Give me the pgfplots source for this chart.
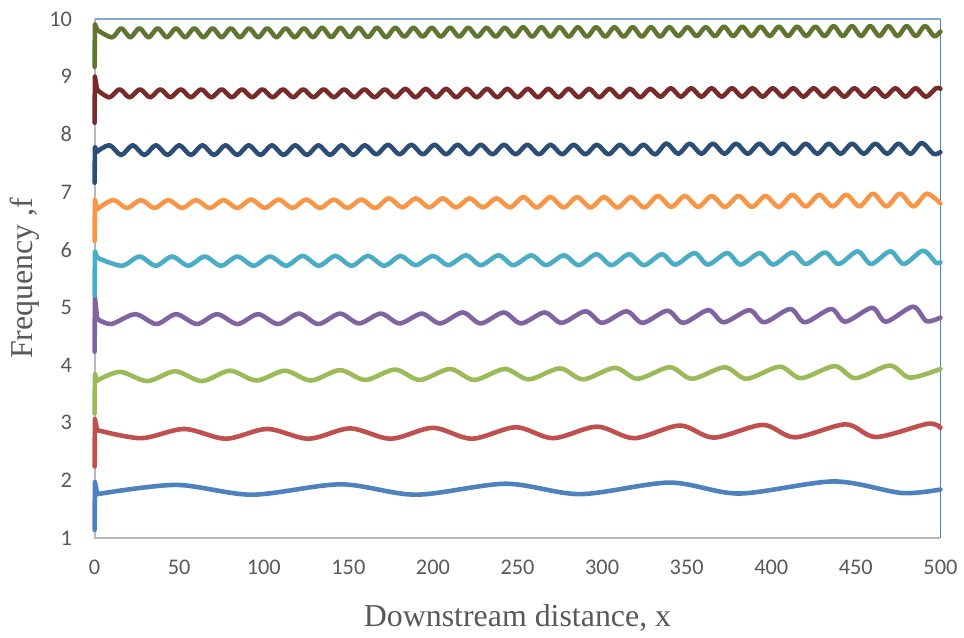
\documentclass[border=0pt]{standalone}
\usepackage{pgfplots}
\pgfplotsset{compat=1.18}
\usepackage{fontspec}
\setmainfont{Liberation Serif}
\newfontfamily\carlito{Carlito}
\definecolor{c1}{HTML}{4F81BD}
\definecolor{c2}{HTML}{C0504D}
\definecolor{c3}{HTML}{9BBB59}
\definecolor{c4}{HTML}{8064A2}
\definecolor{c5}{HTML}{4BACC6}
\definecolor{c6}{HTML}{F79646}
\definecolor{c7}{HTML}{2C4D75}
\definecolor{c8}{HTML}{772C2A}
\definecolor{c9}{HTML}{5F7530}
\definecolor{txtgray}{HTML}{595959}
\definecolor{axgray}{HTML}{B3B9C1}
\definecolor{frameblue}{HTML}{4F81BD}
\begin{document}
\begin{tikzpicture}
\begin{axis}[
  scale only axis,
  width=424.5pt, height=260.5pt,
  xmin=0, xmax=500, ymin=1, ymax=10,
  xtick={0,50,...,500}, ytick={1,2,...,10},
  major tick length=0pt,
  axis line style={draw=none},
  clip=false,
  /pgf/number format/assume math mode=true,
  tick label style={font=\carlito\fontsize{11.2}{13}\selectfont, text=txtgray},
  x tick label style={yshift=-7.5pt},
  y tick label style={xshift=-7.8pt},
  xlabel={Downstream distance, x},
  ylabel={Frequency ,f},
  every axis x label/.style={at={(axis description cs:0.5,-0.1535)}, anchor=center, font=\fontsize{16}{19}\selectfont, text=txtgray},
  every axis y label/.style={at={(axis description cs:-0.0825,0.5)}, anchor=center, rotate=90, font=\fontsize{16}{19}\selectfont, text=txtgray},
  every axis plot/.append style={line width=2.3pt, line join=round, line cap=round},
]
\path (rel axis cs:0,0) ++(-47.5pt,-48.5pt) coordinate (bbsw);
\path (rel axis cs:1,1) ++(10pt,9.5pt) coordinate (bbne);
\draw[color=axgray, line width=0.9pt] (rel axis cs:0,1) -- (rel axis cs:0,0) -- (rel axis cs:1,0);
\draw[color=frameblue!70, line width=0.7pt] (rel axis cs:0,1) -- (rel axis cs:1,1);
\draw[color=frameblue, line width=0.8pt] (rel axis cs:1,1) -- (rel axis cs:1,0);

% series 1 (blue)
\addplot[c1] coordinates {(0,1.14)(0.15,1.97)(1.5,1.76)};
\addplot[c1, smooth] coordinates {(1.5,1.76)(48,1.92)(93,1.75)(145.5,1.93)(190,1.75)(243,1.94)(287,1.76)(340,1.96)(381,1.77)(437,1.98)(477,1.78)(500,1.84)};

% series 2 (red)
\addplot[c2] coordinates {(0,2.24)(0.15,3.06)(1.5,2.87)};
\addplot[c2, smooth] coordinates {(1.5,2.87)(27.5,2.73)(53,2.89)(77.5,2.72)(102,2.89)(126.5,2.72)(151,2.90)(175,2.72)(200,2.91)(223,2.72)(249,2.92)(271,2.73)(297,2.93)(319,2.73)(346,2.95)(366,2.74)(395,2.96)(414,2.745)(444,2.97)(462,2.75)(492.5,2.98)(500,2.91)};

% series 3 (green)
\addplot[c3] coordinates {(0,3.16)(0.15,3.85)(1.5,3.73)};
\addplot[c3, smooth] coordinates {(1.5,3.73)(15,3.88)(31.2,3.72)(47.5,3.89)(63.4,3.72)(80,3.90)(95.6,3.73)(112.5,3.90)(127.8,3.73)(145,3.91)(160,3.74)(177.5,3.92)(192.2,3.74)(210,3.93)(224.4,3.74)(242.5,3.93)(256.6,3.75)(275,3.94)(288.8,3.75)(307.5,3.95)(321,3.76)(340,3.96)(353.2,3.76)(372.5,3.96)(385.4,3.76)(405,3.97)(417.6,3.77)(437.5,3.98)(449.8,3.77)(470,3.99)(482,3.78)(500,3.93)};

% series 4 (purple)
\addplot[c4] coordinates {(0,4.23)(0.15,5.17)(1.5,4.80)};
\addplot[c4, smooth] coordinates {(1.5,4.80)(9.8,4.71)(24,4.88)(36.5,4.71)(48.2,4.88)(60.5,4.71)(72.4,4.88)(84.4,4.71)(96.6,4.88)(108.4,4.71)(120.8,4.89)(132.3,4.71)(145,4.89)(156.3,4.72)(169.2,4.89)(180.3,4.72)(193.4,4.89)(204.2,4.72)(217.6,4.91)(228.2,4.72)(241.8,4.91)(252.1,4.72)(266,4.91)(276.1,4.73)(290.2,4.93)(300.1,4.73)(314.4,4.93)(324,4.73)(338.6,4.94)(348,4.73)(362.8,4.95)(371.9,4.74)(387,4.95)(395.9,4.74)(411.2,4.97)(419.9,4.74)(435.4,4.97)(443.8,4.75)(459.6,4.99)(467.8,4.75)(483.8,5.01)(491.7,4.76)(500,4.82)};

% series 5 (aqua)
\addplot[c5] coordinates {(0,5.20)(0.15,5.97)(1.5,5.86)};
\addplot[c5, smooth] coordinates {(1.5,5.86)(16,5.72)(26.5,5.88)(36.1,5.72)(45.8,5.88)(55.4,5.72)(65.1,5.88)(74.7,5.72)(84.4,5.88)(94.0,5.72)(103.7,5.88)(113.3,5.72)(123.0,5.89)(132.6,5.72)(142.3,5.89)(151.9,5.72)(161.6,5.89)(171.2,5.72)(180.9,5.89)(189.7,5.73)(200.2,5.89)(209.0,5.73)(219.5,5.90)(228.3,5.73)(238.8,5.90)(247.6,5.73)(258.1,5.90)(266.9,5.73)(277.4,5.90)(286.2,5.73)(296.7,5.92)(305.5,5.73)(316.0,5.92)(324.8,5.73)(335.3,5.92)(343.3,5.74)(354.6,5.94)(362.6,5.74)(373.9,5.94)(381.9,5.74)(393.2,5.94)(401.2,5.74)(412.5,5.95)(420.5,5.75)(431.8,5.95)(439.8,5.75)(451.1,5.97)(459.1,5.75)(470.4,5.97)(478.4,5.75)(489.7,5.98)(497.5,5.77)(500,5.78)};

% series 6 (orange)
\addplot[c6] coordinates {(0,6.15)(0.15,6.86)(1.5,6.70)};
\addplot[c6, smooth] coordinates {(1.5,6.70)(11,6.86)(19.1,6.72)(27.3,6.86)(35.4,6.72)(43.6,6.86)(51.7,6.72)(59.9,6.86)(68,6.72)(76.2,6.86)(84.3,6.72)(92.5,6.87)(100.6,6.72)(108.8,6.87)(116.9,6.72)(125.1,6.87)(133.2,6.72)(141.4,6.87)(149.5,6.72)(157.7,6.87)(165.8,6.72)(174,6.89)(181.9,6.73)(189.9,6.89)(197.8,6.73)(205.8,6.89)(213.7,6.73)(221.7,6.89)(229.6,6.73)(237.6,6.89)(245.5,6.73)(253.5,6.91)(261.4,6.73)(269.4,6.91)(277.3,6.73)(285.3,6.91)(293.2,6.73)(301.2,6.91)(309.1,6.73)(317.1,6.91)(325,6.73)(333,6.93)(340.9,6.74)(348.9,6.93)(356.8,6.74)(364.8,6.93)(372.7,6.74)(380.7,6.93)(388.6,6.74)(396.6,6.93)(404.5,6.74)(412.5,6.95)(420.4,6.75)(428.4,6.95)(436.3,6.75)(444.3,6.95)(452.2,6.75)(460.2,6.97)(468.1,6.75)(476.1,6.97)(484,6.75)(492,6.97)(500,6.80)};

% series 7 (dark blue)
\addplot[c7] coordinates {(0,7.16)(0.15,7.78)(1.5,7.70)};
\addplot[c7, smooth] coordinates {(1.5,7.70)(8.8,7.81)(15.7,7.64)(22.5,7.81)(29.4,7.64)(36.2,7.81)(43.1,7.64)(50,7.81)(56.9,7.64)(63.7,7.81)(70.6,7.64)(77.4,7.81)(84.3,7.64)(91.1,7.81)(98,7.64)(104.8,7.81)(111.7,7.64)(118.6,7.81)(125.5,7.64)(132.3,7.81)(139.2,7.64)(146,7.81)(152.9,7.64)(159.7,7.81)(166.6,7.65)(173.4,7.82)(180.3,7.65)(187.2,7.82)(194.1,7.65)(200.9,7.82)(207.8,7.65)(214.6,7.82)(221.5,7.65)(228.3,7.82)(235.2,7.65)(242,7.82)(248.9,7.65)(255.8,7.82)(262.7,7.65)(269.5,7.82)(276.4,7.65)(283.2,7.82)(290.1,7.65)(296.9,7.82)(303.8,7.65)(310.6,7.82)(317.5,7.65)(324.4,7.82)(331.3,7.65)(338.1,7.84)(345,7.66)(351.8,7.84)(358.7,7.66)(365.5,7.84)(372.4,7.66)(379.2,7.84)(386.1,7.66)(393,7.84)(399.9,7.66)(406.7,7.84)(413.6,7.66)(420.4,7.84)(427.3,7.66)(434.1,7.84)(441,7.66)(447.8,7.84)(454.7,7.66)(461.6,7.84)(468.5,7.66)(475.3,7.84)(482.2,7.66)(489,7.85)(495.9,7.66)(500,7.69)};

% series 8 (dark red)
\addplot[c8] coordinates {(0,8.20)(0.15,9.00)(1.5,8.77)};
\addplot[c8, smooth] coordinates {(1.5,8.77)(8.7,8.64)(14.7,8.78)(20.7,8.64)(26.8,8.78)(32.8,8.64)(38.8,8.78)(44.8,8.64)(50.9,8.78)(56.9,8.64)(63,8.78)(69,8.64)(75.1,8.78)(81.1,8.64)(87.1,8.78)(93.1,8.64)(99.2,8.78)(105.2,8.64)(111.3,8.78)(117.3,8.64)(123.3,8.78)(129.3,8.64)(135.4,8.78)(141.4,8.64)(147.5,8.78)(153.5,8.64)(159.5,8.78)(165.5,8.64)(171.6,8.78)(177.6,8.64)(183.7,8.79)(189.7,8.64)(195.8,8.79)(201.8,8.64)(207.8,8.79)(213.8,8.64)(219.9,8.79)(225.9,8.64)(232,8.79)(238,8.64)(244,8.79)(250,8.64)(256.1,8.79)(262.1,8.64)(268.2,8.79)(274.2,8.64)(280.2,8.79)(286.2,8.64)(292.3,8.79)(298.3,8.64)(304.4,8.79)(310.4,8.64)(316.5,8.79)(322.5,8.64)(328.5,8.79)(334.5,8.65)(340.6,8.80)(346.6,8.65)(352.7,8.80)(358.7,8.65)(364.7,8.80)(370.7,8.65)(376.8,8.80)(382.8,8.65)(388.9,8.80)(394.9,8.65)(400.9,8.80)(406.9,8.65)(413,8.80)(419,8.65)(425.1,8.80)(431.1,8.65)(437.2,8.80)(443.2,8.65)(449.2,8.80)(455.2,8.65)(461.3,8.80)(467.3,8.65)(473.4,8.80)(479.4,8.65)(485.4,8.80)(491.4,8.65)(497.5,8.80)(500,8.79)};

% series 9 (olive)
\addplot[c9] coordinates {(0,9.17)(0.15,9.91)(1.5,9.81)};
\addplot[c9, smooth] coordinates {(1.5,9.81)(10.3,9.68)(15.7,9.84)(21.1,9.68)(26.5,9.84)(31.9,9.68)(37.3,9.84)(42.7,9.68)(48.1,9.84)(53.5,9.68)(58.9,9.84)(64.3,9.68)(69.7,9.84)(75.1,9.68)(80.5,9.84)(85.9,9.68)(91.3,9.84)(96.7,9.68)(102.1,9.84)(107.5,9.68)(112.9,9.84)(118.3,9.68)(123.7,9.84)(129.1,9.68)(134.5,9.85)(139.9,9.68)(145.3,9.85)(150.7,9.68)(156.1,9.85)(161.5,9.68)(166.9,9.85)(172.3,9.68)(177.7,9.85)(183.1,9.69)(188.5,9.85)(193.9,9.69)(199.3,9.85)(204.7,9.69)(210.1,9.85)(215.5,9.69)(220.9,9.85)(226.3,9.69)(231.7,9.85)(237.1,9.69)(242.5,9.85)(247.9,9.69)(253.3,9.86)(258.7,9.69)(264.1,9.86)(269.5,9.69)(274.9,9.86)(280.3,9.69)(285.7,9.86)(291.1,9.69)(296.5,9.86)(301.9,9.69)(307.3,9.86)(312.7,9.69)(318.1,9.86)(323.5,9.69)(328.9,9.86)(334.3,9.69)(339.7,9.86)(345.1,9.70)(350.5,9.86)(355.9,9.70)(361.3,9.86)(366.7,9.70)(372.1,9.87)(377.5,9.70)(382.9,9.87)(388.3,9.70)(393.7,9.87)(399.1,9.70)(404.5,9.87)(409.9,9.70)(415.3,9.87)(420.7,9.70)(426.1,9.87)(431.5,9.70)(436.9,9.88)(442.3,9.70)(447.7,9.88)(453.1,9.70)(458.5,9.88)(463.9,9.70)(469.3,9.88)(474.7,9.70)(480.1,9.88)(485.5,9.70)(490.9,9.88)(496.3,9.70)(500,9.78)};
\end{axis}
\end{tikzpicture}
\end{document}
